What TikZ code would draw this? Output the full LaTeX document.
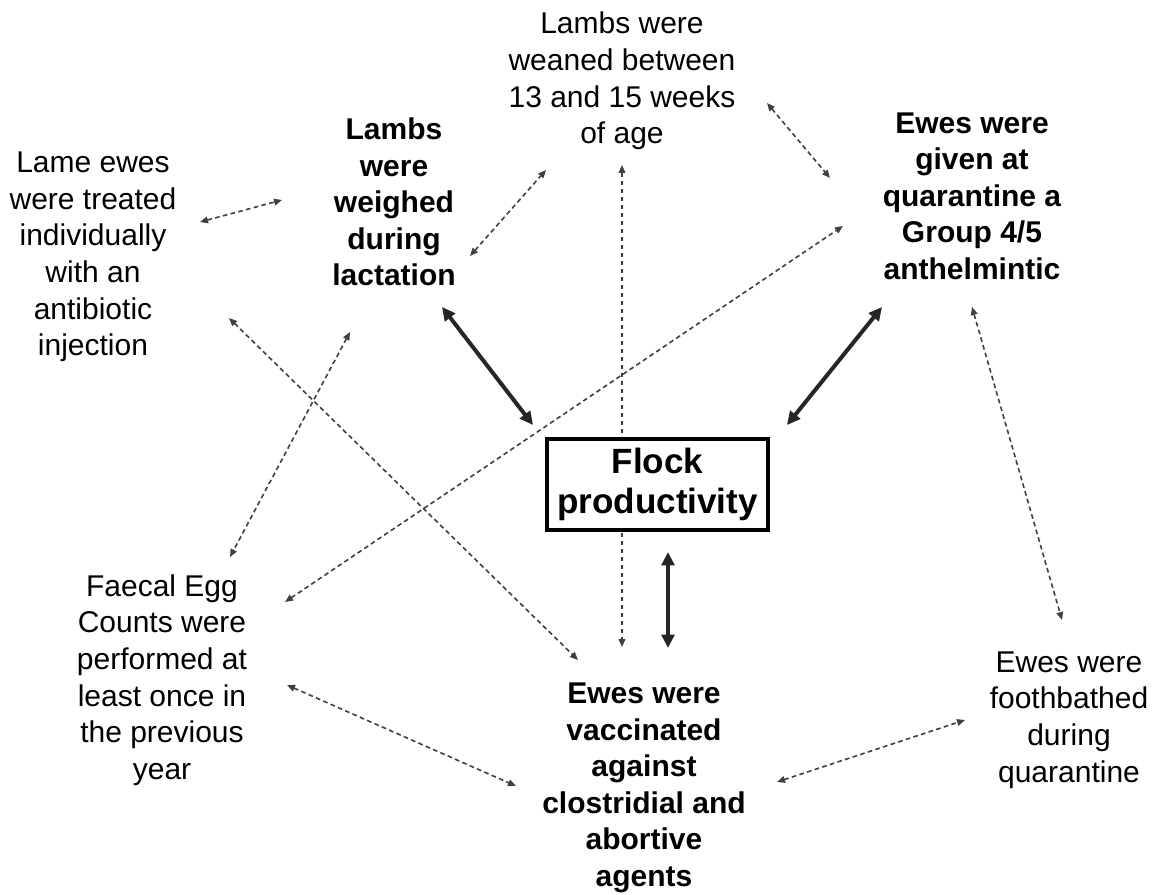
\documentclass[tikz,border=0pt]{standalone}
\usepackage{fontspec}
\setmainfont{Liberation Sans}
\usetikzlibrary{arrows.meta,backgrounds}
\tikzset{
  txt/.style={align=center, inner sep=0pt, font=\fontsize{22.5pt}{27.4pt}\selectfont},
  btxt/.style={txt, font=\fontsize{22.5pt}{27.4pt}\selectfont\bfseries},
  flockbox/.style={draw, line width=3pt, fill=white, align=center, inner sep=0pt,
    minimum width=165.75pt, minimum height=68.25pt,
    font=\fontsize{26.3pt}{30pt}\selectfont\bfseries},
  boldarrow/.style={line width=3pt, draw=black!85, {Triangle[length=10pt,width=9.5pt]}-{Triangle[length=10pt,width=9.5pt]}},
  dasharrow/.style={line width=1.2pt, draw=black!75, dash pattern=on 3.5pt off 2.5pt, {Triangle[length=6pt,width=5pt]}-{Triangle[length=6pt,width=5pt]}}
}
\begin{document}
\begin{tikzpicture}[x=0.75pt,y=-0.75pt]
\useasboundingbox (0,0) rectangle (1158,895);

% text nodes
\node[txt]  (weaned)  at (622,81)  {Lambs were\\weaned between\\13 and 15 weeks\\of age};
\node[btxt] (weighed) at (394,202) {Lambs\\were\\weighed\\during\\lactation};
\node[txt]  (lame)    at (93,257)  {Lame ewes\\were treated\\individually\\with an\\antibiotic\\injection};
\node[btxt] (anth)    at (972,196) {Ewes were\\given at\\quarantine a\\Group 4/5\\anthelmintic};
\node[txt]  (faecal)  at (162,680) {Faecal Egg\\Counts were\\performed at\\least once in\\the previous\\year};
\node[txt]  (foot)    at (1069,720) {Ewes were\\foothbathed\\during\\quarantine};
\node[btxt] (vacc)    at (644,788) {Ewes were\\vaccinated\\against\\clostridial and\\abortive\\agents};
\node[flockbox] (flock) at (657.5,484.5) {Flock\\productivity};

% connector end points
\coordinate (b1a) at (442,307); \coordinate (b1b) at (533,425);
\coordinate (b2a) at (882,307); \coordinate (b2b) at (787,425);
\coordinate (b3a) at (668,552); \coordinate (b3b) at (668,648);
\coordinate (d1a) at (200,222); \coordinate (d1b) at (282,200);
\coordinate (d2a) at (470,256); \coordinate (d2b) at (546,170);
\coordinate (d3a) at (622,165); \coordinate (d3b) at (622,647);
\coordinate (d4a) at (767,103); \coordinate (d4b) at (830,178);
\coordinate (d5a) at (285,602); \coordinate (d5b) at (843,226);
\coordinate (d6a) at (229,318); \coordinate (d6b) at (578,660);
\coordinate (d7a) at (350,332); \coordinate (d7b) at (230,557);
\coordinate (d8a) at (972,307); \coordinate (d8b) at (1062,620);
\coordinate (d9a) at (287,685); \coordinate (d9b) at (516,786);
\coordinate (d10a) at (777,782); \coordinate (d10b) at (965,720);

\begin{pgfonlayer}{background}
\fill[white] (0,0) rectangle (1158,895);
\draw[boldarrow] (b1a) -- (b1b);
\draw[boldarrow] (b2a) -- (b2b);
\draw[boldarrow] (b3a) -- (b3b);
\draw[dasharrow] (d1a) -- (d1b);
\draw[dasharrow] (d2a) -- (d2b);
\draw[dasharrow] (d3a) -- (d3b);
\draw[dasharrow] (d4a) -- (d4b);
\draw[dasharrow] (d5a) -- (d5b);
\draw[dasharrow] (d6a) -- (d6b);
\draw[dasharrow] (d7a) -- (d7b);
\draw[dasharrow] (d8a) -- (d8b);
\draw[dasharrow] (d9a) -- (d9b);
\draw[dasharrow] (d10a) -- (d10b);
\end{pgfonlayer}
\end{tikzpicture}
\end{document}
